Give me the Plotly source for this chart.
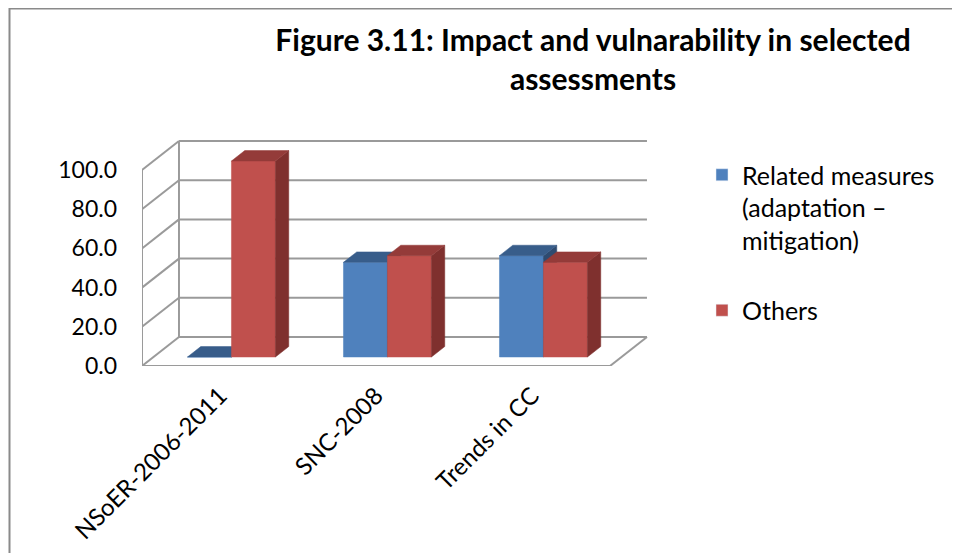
import plotly.graph_objects as go

# ---- data ----
categories = ["NSoER-2006-2011", "SNC-2008", "Trends in CC"]
related_measures = [0.0, 48.3, 51.7]
others = [100.0, 51.7, 48.3]
y_ticks = [0, 20, 40, 60, 80, 100]
series_names = ["Related measures<br>(adaptation –<br>mitigation)", "Others"]

# ---- pseudo-3D geometry (style, not data) ----
DX, DY = 0.237, 14.8          # depth offset (x in category units, y in value units)
D1, D2 = 0.31, 0.67           # front/back depth of bars
W = 0.282                     # bar width (category units)
X0, X1 = -0.5, 2.5            # floor extent
FONT = "Lato"
GRID = "#9a9a9a"
OFF = 8                       # page body margin compensation

colors = {
    "blue": ("#4F81BD", "#385D8A", "#2E4B70"),
    "red": ("#C0504D", "#943B39", "#7F302E"),
}

fig = go.Figure()

def line(xs, ys):
    fig.add_trace(go.Scatter(x=xs, y=ys, mode="lines", line=dict(color=GRID, width=2),
                             hoverinfo="skip", showlegend=False))

# walls
for v in y_ticks:
    line([X0 + DX, X1 + DX], [v + DY, v + DY])       # back wall gridline
    line([X0, X0 + DX], [v, v + DY])                 # left wall diagonal
line([X0, X0], [0, max(y_ticks)])
line([X0 + DX, X0 + DX], [DY, max(y_ticks) + DY])
line([X0, X1], [0, 0])
line([X1, X1 + DX], [0, DY])

def face(xs, ys, col):
    fig.add_trace(go.Scatter(x=xs + [xs[0]], y=ys + [ys[0]], mode="lines", fill="toself",
                             fillcolor=col, line=dict(color=col, width=0.5),
                             hoverinfo="skip", showlegend=False))

def bar3d(xl, v, cols):
    xr = xl + W
    s1x, s1y = D1 * DX, D1 * DY
    s2x, s2y = D2 * DX, D2 * DY
    front, top, side = cols
    face([xl + s1x, xr + s1x, xr + s1x, xl + s1x], [s1y, s1y, v + s1y, v + s1y], front)
    face([xr + s1x, xr + s2x, xr + s2x, xr + s1x], [s1y, s2y, v + s2y, v + s1y], side)
    face([xl + s1x, xr + s1x, xr + s2x, xl + s2x], [v + s1y, v + s1y, v + s2y, v + s2y], top)

for i in range(len(categories)):
    bar3d(i - W, related_measures[i], colors["blue"])
    bar3d(i, others[i], colors["red"])

# legend entries
fig.add_trace(go.Bar(x=[None], y=[None], name=series_names[0], marker_color=colors["blue"][0],
                     legendgroup="a"))
fig.add_trace(go.Bar(x=[None], y=[None], name=series_names[1], marker_color=colors["red"][0],
                     legendgroup="b"))

# target page pixels: plot left 142, right 649, top 139, bottom 366
L, T = 142 - OFF, 139 - OFF
PW, PH = 507, 227
R, B = 960 - L - PW, 553 - T - PH

def px(xp):
    return (xp - OFF - L) / PW

def py(yp):
    return (T + PH - (yp - OFF)) / PH

fig.update_layout(
    width=960, height=553,
    margin=dict(l=L, r=R, t=T, b=B, autoexpand=False),
    paper_bgcolor="white", plot_bgcolor="white",
    font=dict(family=FONT, size=23, color="#000000"),
    title=dict(text="<b>Figure 3.11: Impact and vulnarability in selected<br>assessments</b>",
               x=(593 - OFF) / 960, xanchor="center", xref="container",
               y=1 - (51 - OFF) / 553, yanchor="middle", yref="container",
               font=dict(family=FONT, size=30, color="#000000")),
    xaxis=dict(range=[X0, X1 + 0.25], tickvals=list(range(len(categories))), ticktext=categories,
               tickangle=-45, showgrid=False, zeroline=False, showline=False, ticks="",
               ticklabelstandoff=10, fixedrange=True, tickfont=dict(size=24)),
    yaxis=dict(range=[0, PH / 1.96], tickvals=y_ticks, tickformat=".1f",
               showgrid=False, zeroline=False, showline=False, ticks="",
               ticklabelstandoff=24, fixedrange=True),
    showlegend=True,
    legend=dict(x=px(702), xanchor="left", y=py(152), yanchor="top",
                valign="top", tracegroupgap=35, bgcolor="rgba(0,0,0,0)",
                font=dict(family=FONT, size=25)),
    shapes=[dict(type="rect", xref="paper", yref="paper",
                 x0=px(9.5), x1=px(990), y0=py(600), y1=py(8.5),
                 line=dict(color="#8a8a8a", width=2), fillcolor="rgba(0,0,0,0)", layer="below")],
    barmode="overlay",
)

fig.write_html("out.html")
